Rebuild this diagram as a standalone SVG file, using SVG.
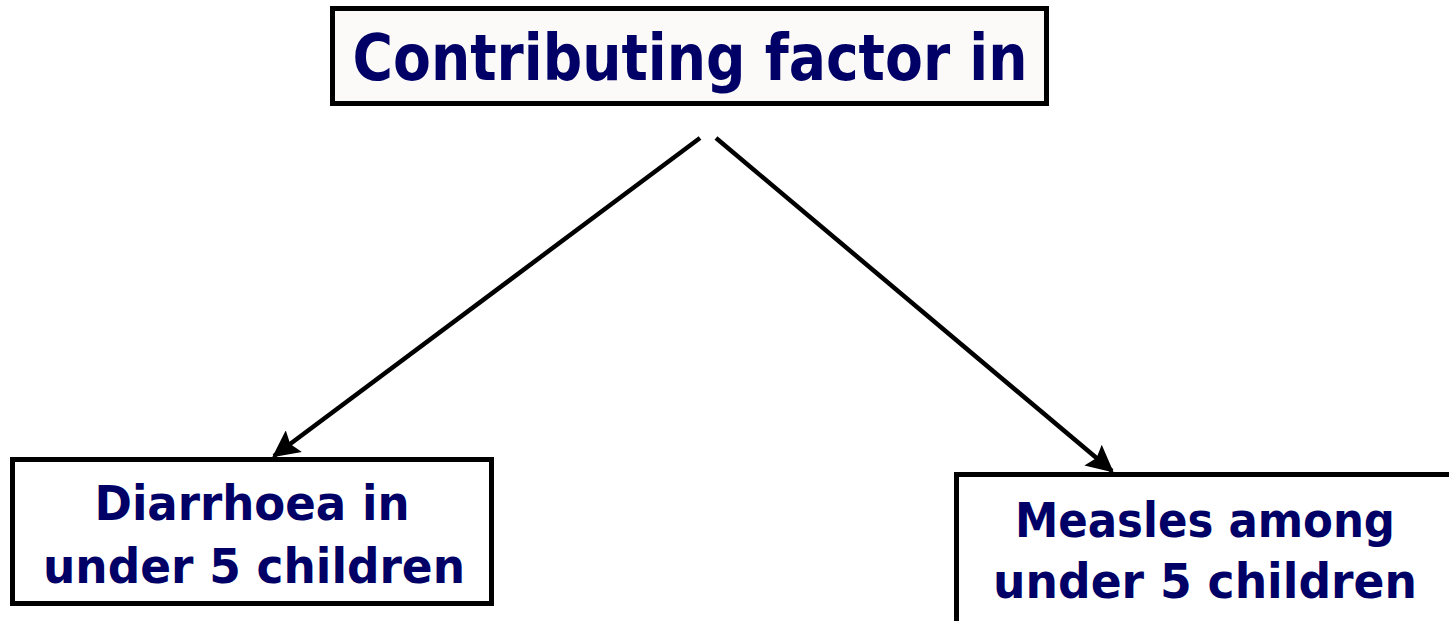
<svg xmlns="http://www.w3.org/2000/svg" width="1449" height="621" viewBox="0 0 1449 621">
<style>
.box{fill:#ffffff;stroke:#000000;stroke-width:5}
.t{font-family:"Comic Sans MS","DejaVu Sans",sans-serif;font-weight:bold;fill:#000066;text-anchor:middle}
.c{stroke:#000000;stroke-width:4.5;fill:none;marker-end:url(#ah)}
</style>
<defs>
<marker id="ah" markerWidth="6" markerHeight="6" refX="5.5" refY="3" orient="auto" markerUnits="strokeWidth">
<path d="M0,0 L6,3 L0,6 L1,3 Z" fill="#000000"/>
</marker>
</defs>
<rect width="1449" height="621" fill="#ffffff"/>
<g id="connectors">
<line class="c" x1="700" y1="138" x2="274" y2="456"/>
<line class="c" x1="716" y1="138" x2="1112" y2="471"/>
</g>
<g id="top">
<rect class="box" x="332.5" y="8.5" width="714" height="95" style="fill:#fbfaf8"/>
<text class="t" x="690" y="80" font-size="64" textLength="675" lengthAdjust="spacingAndGlyphs">Contributing factor in</text>
</g>
<g id="left">
<rect class="box" x="12.5" y="459.5" width="479" height="144"/>
<text class="t" x="252" y="520" font-size="48" textLength="315" lengthAdjust="spacingAndGlyphs">Diarrhoea in</text>
<text class="t" x="254" y="583" font-size="48" textLength="422" lengthAdjust="spacingAndGlyphs">under 5 children</text>
</g>
<g id="right">
<rect class="box" x="956.5" y="474.5" width="500" height="150"/>
<text class="t" x="1205" y="537" font-size="48" textLength="380" lengthAdjust="spacingAndGlyphs">Measles among</text>
<text class="t" x="1205" y="598" font-size="48" textLength="424" lengthAdjust="spacingAndGlyphs">under 5 children</text>
</g>
</svg>
